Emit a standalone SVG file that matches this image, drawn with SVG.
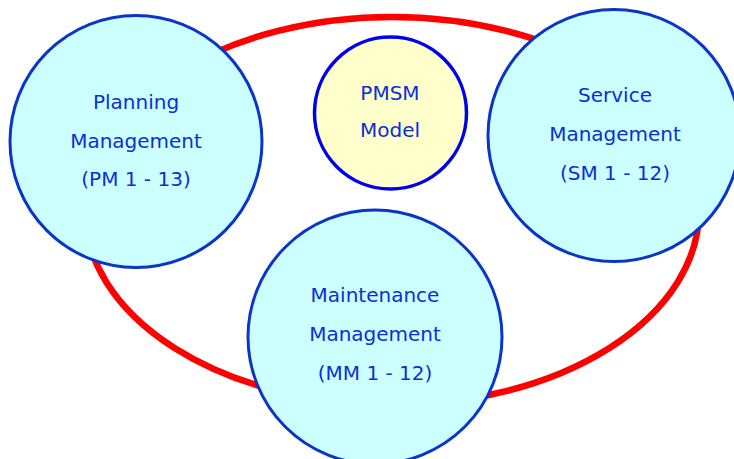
<svg xmlns="http://www.w3.org/2000/svg" width="734" height="459" viewBox="0 0 734 459">
<style>
.c{fill:#CCFFFF;stroke:#0A35C8;stroke-width:3}
.y{fill:#FFFFCC;stroke:#0000F0;stroke-width:3.5}
text{font-family:"DejaVu Sans","Noto Sans",sans-serif;font-size:20px;text-anchor:middle;fill:#0A2FD8}
</style>
<rect width="734" height="459" fill="#FFFFFF"/>
<g id="connectors">
<ellipse cx="392" cy="211" rx="307" ry="194" fill="none" stroke="#FF0000" stroke-width="6.5"/>
</g>
<g id="planning">
<circle class="c" cx="136" cy="141.5" r="126"/>
<text x="136" y="109">Planning</text>
<text x="136" y="148">Management</text>
<text x="136" y="186">(PM 1 - 13)</text>
</g>
<g id="pmsm">
<circle class="y" cx="390.5" cy="113" r="76"/>
<text x="390" y="100">PMSM</text>
<text x="390" y="137">Model</text>
</g>
<g id="service">
<circle class="c" cx="614" cy="135.5" r="126"/>
<text x="615" y="102">Service</text>
<text x="615" y="141">Management</text>
<text x="615" y="180">(SM 1 - 12)</text>
</g>
<g id="maintenance">
<circle class="c" cx="375" cy="337" r="127"/>
<text x="375" y="302">Maintenance</text>
<text x="375" y="341">Management</text>
<text x="375" y="380">(MM 1 - 12)</text>
</g>
</svg>
